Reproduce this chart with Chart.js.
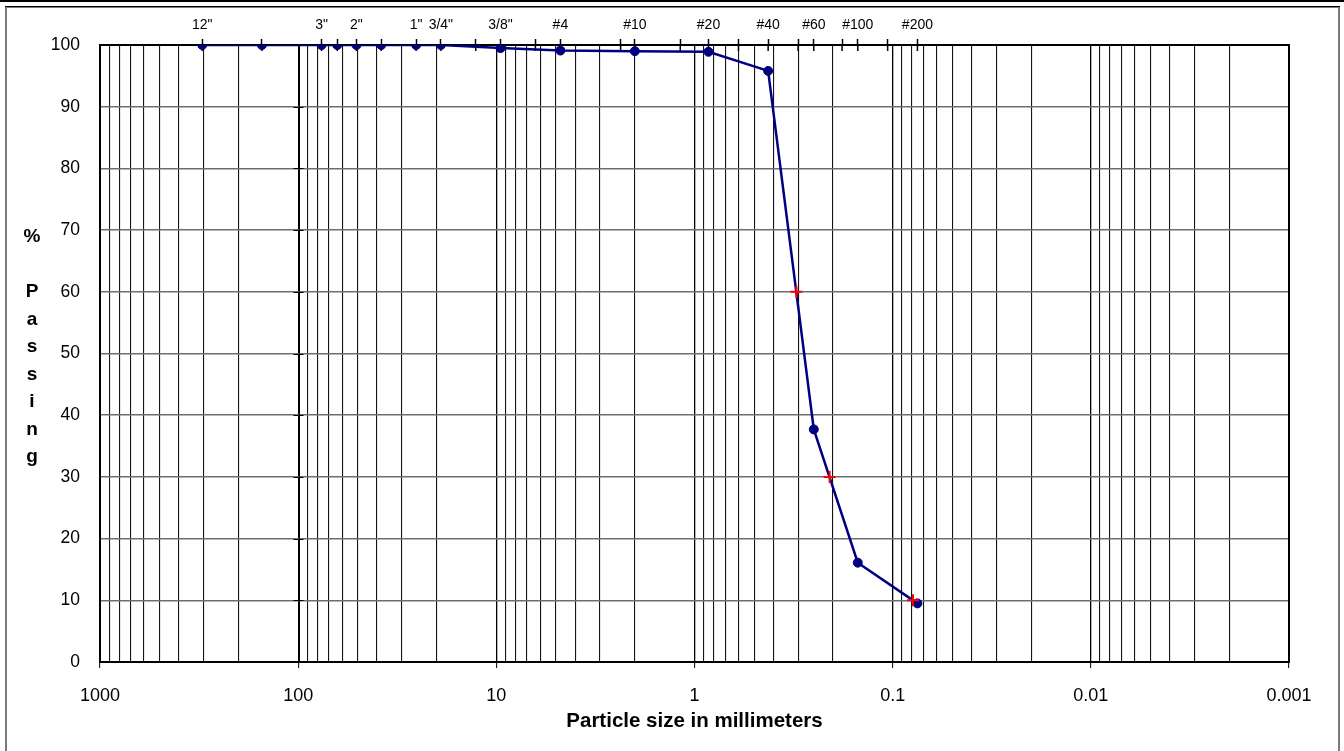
<!DOCTYPE html>
<html>
<head>
<meta charset="utf-8">
<script src="https://cdn.jsdelivr.net/npm/chart.js@4.4.1/dist/chart.umd.min.js"></script>
<style>
  html, body { margin: 0; padding: 0; background: #fff; }
  #wrap { width: 1344px; height: 751px; position: relative; }
  canvas { display: block; }
</style>
</head>
<body>
<div id="wrap"><canvas id="grad" width="1344" height="751"></canvas></div>
<script>
// Standard sieve openings (mm) marked along the top edge, with their names
const sieveSizes  = [304.8, 152.4, 76.2, 63.5, 50.8, 38.1, 25.4, 19.05, 12.7, 9.525, 6.35, 4.75,
                     2.36, 2.0, 1.18, 0.85, 0.6, 0.425, 0.3, 0.25, 0.18, 0.15, 0.106, 0.075];
const sieveLabels = ['12"', '', '3"', '', '2"', '', '1"', '3/4"', '', '3/8"', '', '#4',
                     '', '#10', '', '#20', '', '#40', '', '#60', '', '#100', '', '#200'];

// Sieve analysis results: size (mm) and percent passing
const testSizes   = [304.8, 152.4, 76.2, 63.5, 50.8, 38.1, 25.4, 19.05, 9.525, 4.75, 2.0, 0.85, 0.425, 0.25, 0.15, 0.075];
const testPassing = [100, 100, 100, 100, 100, 100, 100, 100, 99.5, 99.1, 99.0, 98.9, 95.8, 37.7, 16.1, 9.5];

// D60, D30 and D10 sizes (mm)
const dSizes   = [0.306, 0.208, 0.079];
const dPassing = [60, 30, 10];

// Axis labels
const decadeValues = [1000, 100, 10, 1, 0.1, 0.01, 0.001];
const decadeLabels = ['1000', '100', '10', '1', '0.1', '0.01', '0.001'];
const passingTicks = [0, 10, 20, 30, 40, 50, 60, 70, 80, 90, 100];
const xTitle = 'Particle size in millimeters';
const yTitleLines = ['%', '', 'P', 'a', 's', 's', 'i', 'n', 'g'];

const FONT = '"Liberation Sans", Arial, Helvetica, sans-serif';

// log grid: 1..9 x 10^k for each decade
const gridValues = [];
for (let e = -3; e <= 2; e++) {
  for (let m = 1; m <= 9; m++) gridValues.push(m * Math.pow(10, e));
}
gridValues.push(1000);

function decadeIndex(v) {
  return decadeValues.findIndex(d => Math.abs(d - v) / d < 1e-6);
}

const decor = {
  id: 'decor',
  beforeDraw(chart) {
    const ctx = chart.ctx;
    ctx.save();
    ctx.fillStyle = '#fff';
    ctx.fillRect(0, 0, chart.width, chart.height);
    ctx.restore();
  },
  beforeDatasetsDraw(chart) {
    const { ctx, chartArea: a, scales } = chart;
    const x = scales.x, y = scales.y, x2 = scales.x2;
    ctx.save();
    // secondary vertical axis at 100 mm with short ticks
    const px = Math.round(x.getPixelForValue(100)) + 0.5;
    ctx.strokeStyle = '#000';
    ctx.lineWidth = 1;
    ctx.beginPath();
    ctx.moveTo(px + 1, a.top);
    ctx.lineTo(px + 1, a.bottom);
    passingTicks.forEach(v => {
      const py = Math.round(y.getPixelForValue(v)) + 0.5;
      ctx.moveTo(px - 5, py);
      ctx.lineTo(px + 5, py);
    });
    ctx.stroke();
    // inner halves of the sieve ticks
    ctx.lineWidth = 1.5;
    ctx.beginPath();
    sieveSizes.forEach(s => {
      const sx = x2.getPixelForValue(s);
      ctx.moveTo(sx, a.top);
      ctx.lineTo(sx, a.top + 6);
    });
    ctx.stroke();
    // plot frame
    ctx.lineWidth = 2;
    ctx.strokeRect(a.left, a.top, a.right - a.left, a.bottom - a.top);
    ctx.restore();
  },
  afterDraw(chart) {
    const ctx = chart.ctx;
    ctx.save();
    // vertical axis title, one letter per line
    ctx.fillStyle = '#000';
    ctx.font = 'bold 19px ' + FONT;
    ctx.textAlign = 'center';
    ctx.textBaseline = 'alphabetic';
    yTitleLines.forEach((t, i) => {
      if (t) ctx.fillText(t, 32, 242 + i * 27.5);
    });
    // outer frame
    ctx.strokeStyle = '#000';
    ctx.lineWidth = 2;
    ctx.beginPath();
    ctx.moveTo(0, 1); ctx.lineTo(chart.width, 1);
    ctx.stroke();
    ctx.lineWidth = 1.5;
    ctx.beginPath();
    ctx.moveTo(5, 6.75); ctx.lineTo(1340, 6.75);
    ctx.stroke();
    ctx.strokeStyle = '#7a7a7a';
    ctx.lineWidth = 2;
    ctx.beginPath();
    ctx.moveTo(6, 7); ctx.lineTo(6, chart.height);
    ctx.moveTo(1339, 7); ctx.lineTo(1339, chart.height);
    ctx.stroke();
    ctx.restore();
  }
};

new Chart(document.getElementById('grad'), {
  type: 'scatter',
  data: {
    datasets: [
      {
        label: 'D60 / D30 / D10',
        data: dSizes.map((s, i) => ({ x: s, y: dPassing[i] })),
        showLine: false,
        pointStyle: 'cross',
        pointRadius: 6,
        pointBorderWidth: 2,
        borderColor: '#ff0000',
        backgroundColor: '#ff0000',
        order: 0
      },
      {
        label: 'Percent passing',
        data: testSizes.map((s, i) => ({ x: s, y: testPassing[i] })),
        showLine: true,
        tension: 0,
        borderColor: '#000080',
        borderWidth: 2.5,
        pointRadius: 4.5,
        pointBorderWidth: 1,
        pointBackgroundColor: '#000080',
        pointBorderColor: '#000080',
        order: 1
      }
    ]
  },
  options: {
    responsive: false,
    animation: false,
    devicePixelRatio: 1,
    layout: { padding: { left: 0, right: 55, top: 0, bottom: 0 } },
    plugins: { legend: { display: false }, tooltip: { enabled: false } },
    scales: {
      x: {
        type: 'logarithmic',
        position: 'bottom',
        reverse: true,
        min: 0.001,
        max: 1000,
        afterBuildTicks: s => { s.ticks = gridValues.map(v => ({ value: v })); },
        afterFit: s => { s.height = 89; },
        ticks: {
          autoSkip: false, maxRotation: 0, minRotation: 0,
          padding: 17, color: '#000',
          font: { family: FONT, size: 18 },
          callback: v => { const i = decadeIndex(v); return i >= 0 ? decadeLabels[i] : ''; }
        },
        grid: {
          color: c => decadeIndex(c.tick.value) >= 0 ? '#000' : '#141414',
          lineWidth: c => decadeIndex(c.tick.value) >= 0 ? 1.3 : 1.1,
          tickLength: 6,
          tickWidth: 1,
          tickColor: c => decadeIndex(c.tick.value) >= 0 ? '#000' : 'rgba(0,0,0,0)'
        },
        border: { display: false },
        title: {
          display: true, text: xTitle, color: '#000',
          font: { family: FONT, size: 20.5, weight: 'bold' },
          padding: { top: 0, bottom: 17 }
        }
      },
      x2: {
        type: 'logarithmic',
        position: 'top',
        reverse: true,
        min: 0.001,
        max: 1000,
        afterBuildTicks: s => { s.ticks = sieveSizes.map(v => ({ value: v })); },
        afterFit: s => { s.height = 45; },
        ticks: {
          autoSkip: false, maxRotation: 0, minRotation: 0,
          padding: 5, color: '#000',
          font: { family: FONT, size: 14 },
          callback: (v, i) => sieveLabels[i]
        },
        grid: { drawOnChartArea: false, tickLength: 6, tickWidth: 1.5, tickColor: '#000' },
        border: { display: false }
      },
      y: {
        min: 0,
        max: 100,
        afterBuildTicks: s => { s.ticks = passingTicks.map(v => ({ value: v })); },
        afterFit: s => { s.width = 100; },
        ticks: { padding: 20, color: '#000', font: { family: FONT, size: 17.5 } },
        grid: { color: '#6e6e6e', lineWidth: 1.5, drawTicks: false },
        border: { display: false }
      }
    }
  },
  plugins: [decor]
});
</script>
</body>
</html>
